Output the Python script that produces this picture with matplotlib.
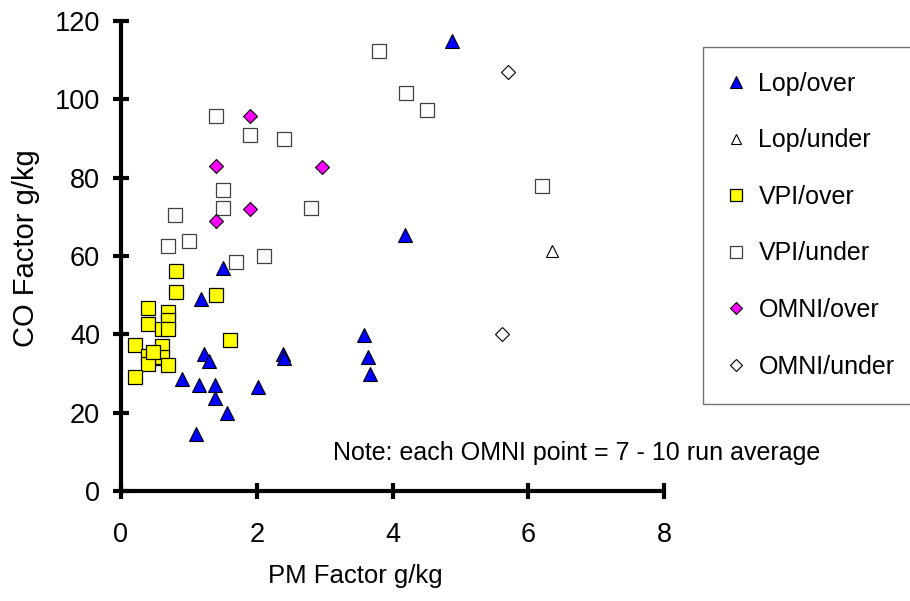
import matplotlib
matplotlib.use("Agg")
import matplotlib.pyplot as plt

plt.rcParams['font.family'] = ['Liberation Sans', 'DejaVu Sans']

# PM factor (g/kg) and CO factor (g/kg) per group
lop_over_pm = [4.87, 4.18, 1.50, 1.18, 1.22, 1.30, 0.90, 1.15, 1.38, 1.38, 1.56, 1.11,
               2.02, 2.39, 2.40, 3.58, 3.64, 3.67]
lop_over_co = [115.0, 65.4, 57.0, 49.0, 35.0, 33.2, 28.5, 27.0, 27.0, 23.8, 19.8, 14.5,
               26.5, 35.0, 34.0, 39.8, 34.2, 29.8]

lop_under_pm = [6.35]
lop_under_co = [61.3]

vpi_over_pm = [0.81, 0.81, 1.40, 0.40, 0.69, 0.40, 0.69, 0.60, 0.69, 0.21, 0.60, 1.60,
               0.40, 0.50, 0.60, 0.40, 0.69, 0.21, 0.47]
vpi_over_co = [56.2, 50.8, 50.0, 46.7, 45.7, 42.6, 43.6, 41.4, 41.4, 37.3, 37.0, 38.5,
               34.5, 34.0, 34.2, 32.4, 32.2, 29.1, 35.6]

vpi_under_pm = [1.40, 1.90, 2.40, 1.50, 1.50, 2.80, 0.80, 1.00, 0.69, 1.70, 2.11,
                3.80, 4.20, 4.51, 6.20]
vpi_under_co = [95.7, 90.9, 89.9, 76.8, 72.3, 72.3, 70.5, 63.8, 62.5, 58.5, 59.9,
                112.3, 101.6, 97.3, 77.9]

omni_over_pm = [1.90, 1.40, 2.96, 1.90, 1.40]
omni_over_co = [95.7, 83.0, 82.7, 72.0, 69.0]

omni_under_pm = [5.70, 5.61]
omni_under_co = [107.0, 40.0]

fig = plt.figure(figsize=(9.1, 6.01), dpi=100)
ax = fig.add_axes([121 / 910, 110 / 601, 543 / 910, 470 / 601])

ax.plot(lop_over_pm, lop_over_co, linestyle='none', marker='^', ms=10,
        mfc='#0000ff', mec='black', mew=0.8, label='Lop/over', clip_on=False)
ax.plot(lop_under_pm, lop_under_co, linestyle='none', marker='^', ms=9,
        mfc='white', mec='black', mew=0.8, label='Lop/under', clip_on=False)
ax.plot(vpi_over_pm, vpi_over_co, linestyle='none', marker='s', ms=9.5,
        mfc='#ffff00', mec='black', mew=0.9, label='VPI/over', clip_on=False)
ax.plot(vpi_under_pm, vpi_under_co, linestyle='none', marker='s', ms=9.5,
        mfc='white', mec='#404040', mew=0.9, label='VPI/under', clip_on=False)
ax.plot(omni_over_pm, omni_over_co, linestyle='none', marker='D', ms=7.5,
        mfc='#ff00ff', mec='black', mew=0.8, label='OMNI/over', clip_on=False)
ax.plot(omni_under_pm, omni_under_co, linestyle='none', marker='D', ms=7,
        mfc='white', mec='black', mew=0.8, label='OMNI/under', clip_on=False)

ax.set_xlim(0, 8)
ax.set_ylim(0, 120)
ax.set_xticks([0, 2, 4, 6, 8])
ax.set_yticks([0, 20, 40, 60, 80, 100, 120])

for side in ['top', 'right']:
    ax.spines[side].set_visible(False)
for side in ['left', 'bottom']:
    ax.spines[side].set_linewidth(3)
    ax.spines[side].set_capstyle('round')

ax.tick_params(axis='both', direction='inout', length=12, width=3,
               labelsize=19.5, pad=9)
ax.tick_params(axis='x', pad=16)

fig.text(355 / 910, 1 - 576 / 601, 'PM Factor g/kg', fontsize=18.5,
         ha='center', va='center')
fig.text(26 / 910, 1 - 248 / 601, 'CO Factor g/kg', fontsize=21,
         ha='center', va='center', rotation=90)

ax.text(333 / 910, 1 - 453 / 601, 'Note: each OMNI point = 7 - 10 run average',
        transform=fig.transFigure, fontsize=18, ha='left', va='center')

leg = fig.legend(loc='upper left', bbox_to_anchor=(703 / 910, 1 - 47 / 601),
                 fontsize=18, frameon=True, fancybox=False, borderpad=1.0,
                 labelspacing=1.3, handlelength=0.6, handletextpad=0.62,
                 markerscale=0.85, borderaxespad=0)
leg.get_frame().set_edgecolor('#505050')
leg.get_frame().set_linewidth(1)

fig.savefig('out.png', dpi=100)
